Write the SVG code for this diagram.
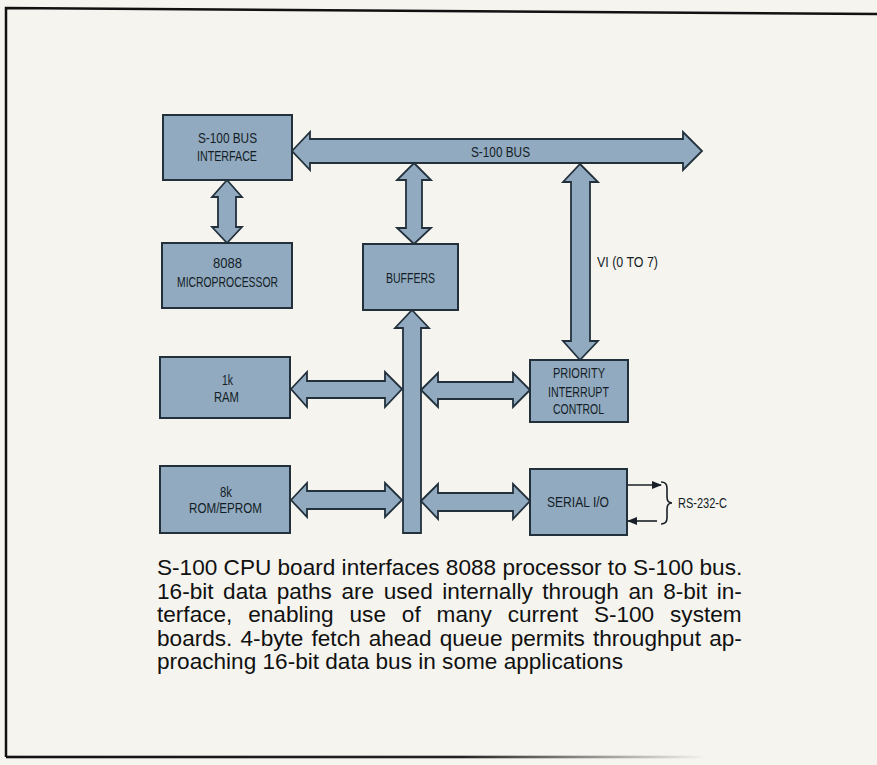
<svg xmlns="http://www.w3.org/2000/svg" width="877" height="765" viewBox="0 0 877 765">
<defs>
<style>
.box{fill:#91aabf;stroke:#22303c;stroke-width:2}
.arr{fill:#91aabf;stroke:#22303c;stroke-width:1.8;stroke-linejoin:miter}
.lbl{font-family:"Liberation Sans Narrow","Liberation Sans",Arial,sans-serif;font-size:15.5px;fill:#141d26}
.cap{font-family:"Liberation Sans",Arial,Helvetica,sans-serif;font-size:22.6px;fill:#111}
.line{stroke:#1a2028;stroke-width:1.6;fill:none}
</style>
<marker id="ah" markerWidth="10" markerHeight="8" refX="9" refY="4" orient="auto" markerUnits="userSpaceOnUse">
<path d="M0,0 L10,4 L0,8 Z" fill="#1a2028"/>
</marker>
<linearGradient id="fade" x1="0" y1="0" x2="1" y2="0">
<stop offset="0" stop-color="#111"/>
<stop offset="0.65" stop-color="#222"/>
<stop offset="1" stop-color="#222" stop-opacity="0"/>
</linearGradient>
</defs>
<rect x="0" y="0" width="877" height="765" fill="#f5f4ef"/>
<g id="frame">
<path d="M6,757 L6,8 L877,14" fill="none" stroke="#111" stroke-width="2.5"/>
<rect x="6" y="755.7" width="700" height="2.6" fill="url(#fade)"/>
</g>
<g id="connectors">
<polygon class="arr" points="292,151 310,132 310,139 683,139 683,132 702,151 683,170 683,163 310,163 310,170"/>
<polygon class="arr" points="227,180 242,197 236,197 236,227 242,227 227,243 212,227 218,227 218,197 212,197"/>
<polygon class="arr" points="414,163 431,180 422,180 422,228 431,228 414,244 397,228 406,228 406,180 397,180"/>
<polygon class="arr" points="412,310 429,328 421,328 421,533 403,533 403,328 395,328"/>
<polygon class="arr" points="580,164 598,182 590,182 590,341 598,341 580,360 563,341 571,341 571,182 563,182"/>
<polygon class="arr" points="291,389 307,372 307,381 385,381 385,372 402,389 385,407 385,398 307,398 307,407"/>
<polygon class="arr" points="291,500 307,483 307,491 385,491 385,483 402,500 385,517 385,509 307,509 307,517"/>
<polygon class="arr" points="421,390 438,373 438,382 513,382 513,373 530,390 513,407 513,399 438,399 438,407"/>
<polygon class="arr" points="421,501 438,484 438,493 513,493 513,484 530,501 513,519 513,511 438,511 438,519"/>
<line class="line" x1="627" y1="485" x2="661" y2="485" marker-end="url(#ah)"/>
<line class="line" x1="657" y1="521" x2="628" y2="521" marker-end="url(#ah)"/>
<path class="line" d="M661,482 Q667,482 667,488 L667,497 Q667,503 672,503 Q667,503 667,509 L667,518 Q667,524 661,524"/>
<text class="lbl" x="471" y="157" textLength="59" lengthAdjust="spacingAndGlyphs">S-100 BUS</text>
<text class="lbl" x="597" y="267" textLength="61" lengthAdjust="spacingAndGlyphs">VI (0 TO 7)</text>
<text class="lbl" x="678" y="508" textLength="49" lengthAdjust="spacingAndGlyphs">RS-232-C</text>
</g>
<g id="node-interface">
<rect class="box" x="163" y="115" width="129" height="65"/>
<text class="lbl" x="198" y="143" textLength="59" lengthAdjust="spacingAndGlyphs">S-100 BUS</text>
<text class="lbl" x="197" y="161" textLength="60" lengthAdjust="spacingAndGlyphs">INTERFACE</text>
</g>
<g id="node-micro">
<rect class="box" x="162" y="243" width="130" height="65"/>
<text class="lbl" x="213" y="268" textLength="29" lengthAdjust="spacingAndGlyphs">8088</text>
<text class="lbl" x="177" y="287" textLength="101" lengthAdjust="spacingAndGlyphs">MICROPROCESSOR</text>
</g>
<g id="node-buffers">
<rect class="box" x="363" y="244" width="95" height="66"/>
<text class="lbl" x="386" y="283" textLength="49" lengthAdjust="spacingAndGlyphs">BUFFERS</text>
</g>
<g id="node-ram">
<rect class="box" x="160" y="357" width="130" height="61"/>
<text class="lbl" x="222" y="385" textLength="11" lengthAdjust="spacingAndGlyphs">1k</text>
<text class="lbl" x="214" y="402" textLength="25" lengthAdjust="spacingAndGlyphs">RAM</text>
</g>
<g id="node-rom">
<rect class="box" x="160" y="466" width="130" height="67"/>
<text class="lbl" x="220" y="497" textLength="12" lengthAdjust="spacingAndGlyphs">8k</text>
<text class="lbl" x="189" y="513" textLength="73" lengthAdjust="spacingAndGlyphs">ROM/EPROM</text>
</g>
<g id="node-priority">
<rect class="box" x="530" y="360" width="98" height="62"/>
<text class="lbl" x="553" y="378" textLength="52" lengthAdjust="spacingAndGlyphs">PRIORITY</text>
<text class="lbl" x="548" y="397" textLength="61" lengthAdjust="spacingAndGlyphs">INTERRUPT</text>
<text class="lbl" x="553" y="414" textLength="51" lengthAdjust="spacingAndGlyphs">CONTROL</text>
</g>
<g id="node-serial">
<rect class="box" x="530" y="469" width="97" height="66"/>
<text class="lbl" x="547" y="507" textLength="62" lengthAdjust="spacingAndGlyphs">SERIAL I/O</text>
</g>
<g id="caption">
<text class="cap" x="157" y="575">S-100 CPU board interfaces 8088 processor to S-100 bus.</text>
<text class="cap" x="157" y="598.5" word-spacing="3.3">16-bit data paths are used internally through an 8-bit in-</text>
<text class="cap" x="157" y="622" word-spacing="9.6">terface, enabling use of many current S-100 system</text>
<text class="cap" x="157" y="645.5" word-spacing="1.9">boards. 4-byte fetch ahead queue permits throughput ap-</text>
<text class="cap" x="157" y="669">proaching 16-bit data bus in some applications</text>
</g>
</svg>
